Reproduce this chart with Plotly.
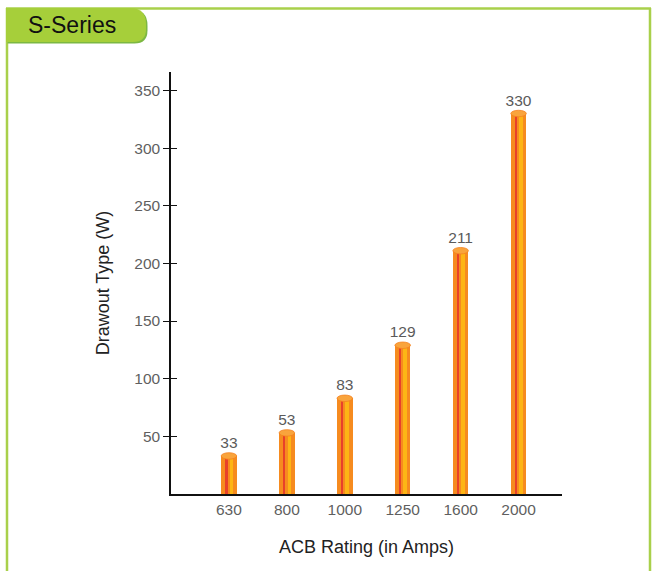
import plotly.graph_objects as go

categories = ["630", "800", "1000", "1250", "1600", "2000"]
values = [33, 53, 83, 129, 211, 330]
y_ticks = [50, 100, 150, 200, 250, 300, 350]

W, H = 654, 571
ML, MR, MT, MB = 171, 92, 72, 77
PW, PH = W - ML - MR, H - MT - MB

def px(x):
    return (x - ML) / PW

def py(y):
    return (H - MB - y) / PH

xs = list(range(len(categories)))
unit = PW / 6.75  # pixels per category

ORANGE = "#f68b1f"
RED = "#e8412a"
YELLOW = "#fdb515"
CAP = "#f9a43c"
FONT = "Liberation Sans"

fig = go.Figure()
bw = 15.5 / unit
fig.add_trace(go.Bar(x=xs, y=values, width=bw, marker=dict(color=ORANGE, line=dict(width=0)),
                     hoverinfo="skip", showlegend=False))
fig.add_trace(go.Bar(x=xs, y=values, width=2.6 / unit, offset=-4.0 / unit,
                     marker=dict(color=RED, line=dict(width=0)), hoverinfo="skip", showlegend=False))
fig.add_trace(go.Bar(x=xs, y=values, width=3.4 / unit, offset=0.7 / unit,
                     marker=dict(color=YELLOW, line=dict(width=0)), hoverinfo="skip", showlegend=False))
fig.add_trace(go.Scatter(x=xs, y=values, mode="markers+text", text=[str(v) for v in values],
                         textposition="top center", cliponaxis=False,
                         marker=dict(size=5, opacity=0),
                         textfont=dict(family=FONT, size=15.5, color="#5a5a5a"),
                         hoverinfo="skip", showlegend=False))

shapes = []
# cylinder caps
cap_h = 2.8  # data units half height
for x, v in zip(xs, values):
    shapes.append(dict(type="circle", xref="x", yref="y",
                       x0=x - bw / 2, x1=x + bw / 2, y0=v - cap_h, y1=v + cap_h,
                       fillcolor=CAP, line=dict(color="#f58220", width=0.8), layer="above"))

# frame
frame_col = "#a9d04b"
shapes.append(dict(type="line", xref="paper", yref="paper", x0=px(7), x1=px(7), y0=py(8), y1=py(600),
                   line=dict(color=frame_col, width=2.5)))
shapes.append(dict(type="line", xref="paper", yref="paper", x0=px(650), x1=px(650), y0=py(8), y1=py(600),
                   line=dict(color=frame_col, width=2.5)))
shapes.append(dict(type="line", xref="paper", yref="paper", x0=px(6), x1=px(651), y0=py(8.5), y1=py(8.5),
                   line=dict(color=frame_col, width=2.5)))

def tab_path(dx, dy):
    pts = [
        ("M", (6 + dx, 8 + dy)),
        ("L", (130 + dx, 8 + dy)),
        ("Q", (146 + dx, 8 + dy), (146 + dx, 24 + dy)),
        ("L", (146 + dx, 29 + dy)),
        ("Q", (146 + dx, 42 + dy), (133 + dx, 42 + dy)),
        ("L", (6 + dx, 42 + dy)),
    ]
    s = ""
    for p in pts:
        cmd = p[0]
        coords = " ".join(f"{px(a):.5f},{py(b):.5f}" for a, b in p[1:])
        s += f"{cmd} {coords} "
    return s + "Z"

shapes.append(dict(type="path", xref="paper", yref="paper", path=tab_path(1.5, 1.5),
                   fillcolor="#7cb843", line=dict(width=0)))
shapes.append(dict(type="path", xref="paper", yref="paper", path=tab_path(0, 0),
                   fillcolor="#a6cf3a", line=dict(width=0)))

annotations = [dict(text="S-Series", xref="paper", yref="paper", x=px(72), y=py(25),
                    xanchor="center", yanchor="middle", showarrow=False,
                    font=dict(family=FONT, size=23, color="#111111"))]

fig.update_layout(
    width=W, height=H,
    margin=dict(l=ML, r=MR, t=MT, b=MB),
    paper_bgcolor="white", plot_bgcolor="white",
    barmode="overlay", bargap=0,
    shapes=shapes, annotations=annotations,
    xaxis=dict(range=[-1, 5.75], tickmode="array", tickvals=xs, ticktext=categories,
               showgrid=False, zeroline=False, showline=True, linecolor="#111111", linewidth=1.8,
               ticks="", tickfont=dict(family=FONT, size=15.5, color="#5f5f5f"),
               title=dict(text="ACB Rating (in Amps)", standoff=24,
                          font=dict(family=FONT, size=18, color="#222222"))),
    yaxis=dict(range=[0, 366], tickmode="array", tickvals=y_ticks,
               showgrid=False, zeroline=False, showline=True, linecolor="#111111", linewidth=1.5,
               ticks="outside", ticklen=6, tickwidth=1.3, tickcolor="#111111",
               tickfont=dict(family=FONT, size=15.5, color="#5f5f5f"),
               title=dict(text="Drawout Type (W)", standoff=20,
                          font=dict(family=FONT, size=18, color="#222222"))),
    yaxis2=dict(overlaying="y", matches="y", side="left", anchor="x", range=[0, 366],
                tickmode="array", tickvals=y_ticks, showticklabels=False, showgrid=False,
                zeroline=False, showline=False, ticks="inside", ticklen=6, tickwidth=1.3,
                tickcolor="#111111"),
)
fig.add_trace(go.Scatter(x=[None], y=[None], yaxis="y2", showlegend=False, hoverinfo="skip"))

fig.write_html("out.html", config={"displayModeBar": False},
               post_script="document.body.style.margin='0';document.body.style.padding='0';")
